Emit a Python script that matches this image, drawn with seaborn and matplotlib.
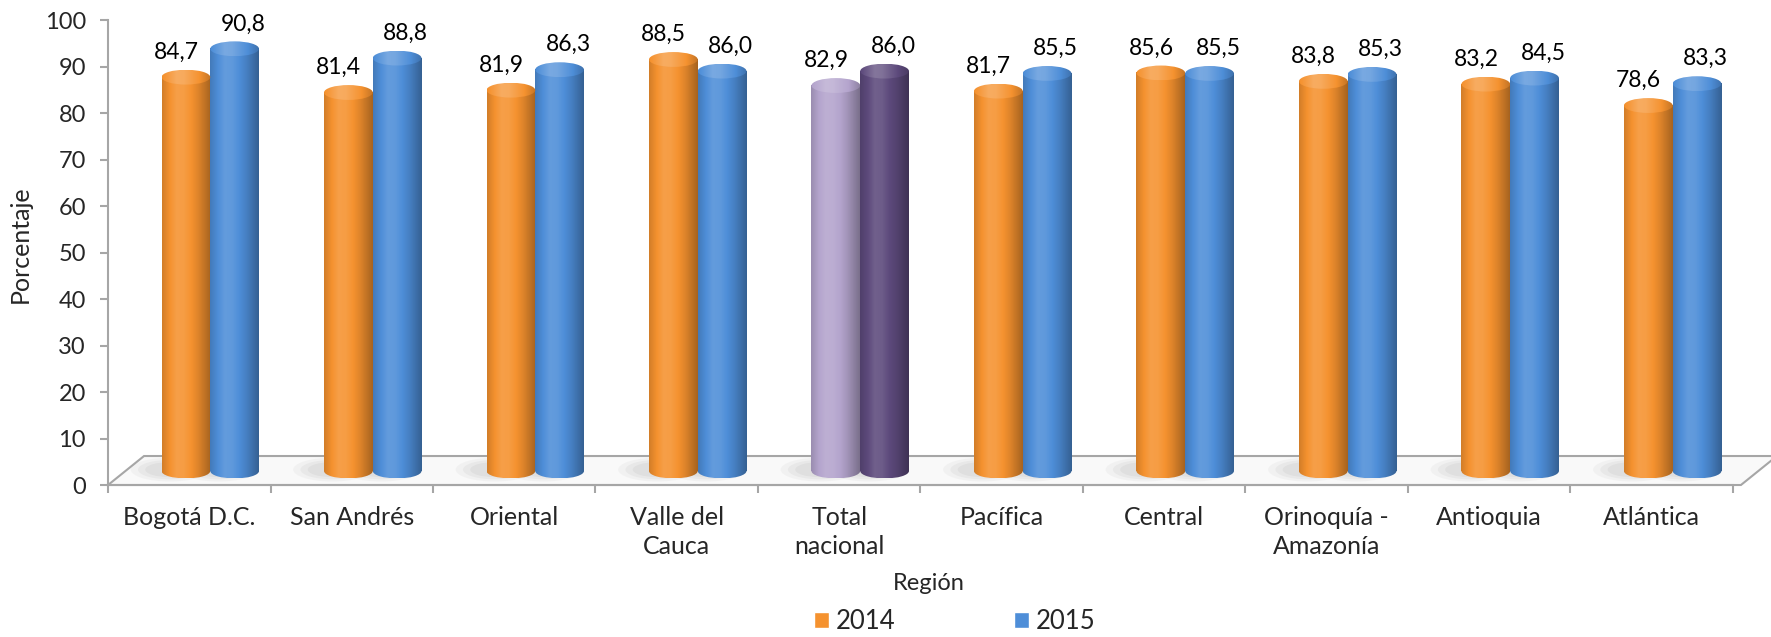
import numpy as np
import pandas as pd
import matplotlib
matplotlib.use('Agg')
import matplotlib.pyplot as plt
import matplotlib.colors as mcolors
from matplotlib.patches import Ellipse, Polygon
from matplotlib.transforms import ScaledTranslation, IdentityTransform
import seaborn as sns

# Datos (porcentaje por región)
categories = ['Bogotá D.C.', 'San Andrés', 'Oriental', 'Valle del\nCauca', 'Total\nnacional',
              'Pacífica', 'Central', 'Orinoquía -\nAmazonía', 'Antioquia', 'Atlántica']
years = ['2014', '2015']
v2014 = [84.7, 81.4, 81.9, 88.5, 82.9, 81.7, 85.6, 83.8, 83.2, 78.6]
v2015 = [90.8, 88.8, 86.3, 86.0, 86.0, 85.5, 85.5, 85.3, 84.5, 83.3]
yticks = list(range(0, 101, 10))

palette = {'2014': '#F5922F', '2015': '#4E8ED8'}
total_colors = {'2014': '#B4A4CD', '2015': '#5D4A7C'}
grey = '#A6A6A6'

df = pd.DataFrame({'region': categories * 2,
                   'year': ['2014'] * len(v2014) + ['2015'] * len(v2015),
                   'valor': v2014 + v2015})

sns.set_theme(style='ticks')
plt.rcParams['font.family'] = ['Lato', 'DejaVu Sans']

fig, ax = plt.subplots(figsize=(17.71, 6.37), dpi=100)
fig.subplots_adjust(left=0.061, right=0.9785, bottom=0.2386, top=0.9686)

sns.barplot(data=df, x='region', y='valor', hue='year', hue_order=years,
            palette=palette, width=0.6, saturation=1, ax=ax)
handles, labels = ax.get_legend_handles_labels()
ax.get_legend().remove()

# desplazamiento "3D" de los cilindros
off = ax.transData + ScaledTranslation(0.21, 0.14, fig.dpi_scale_trans)

prof_f = np.interp(np.linspace(0, 1, 80), [0, 0.3, 0.45, 0.75, 1], [0.86, 1.12, 1.1, 0.9, 0.68])


def shade(c, f):
    rgb = np.array(mcolors.to_rgb(c))
    if f >= 1:
        return np.clip(rgb + (1 - rgb) * (f - 1), 0, 1)
    return rgb * f


def gradient(c, lift=0.0):
    return np.array([shade(c, f + lift) for f in prof_f])[None, :, :]


eh = 3.2  # alto de la elipse en unidades de datos
for yr, cont in zip(years, ax.containers):
    for cat, bar in zip(categories, cont):
        color = total_colors[yr] if cat.startswith('Total') else palette[yr]
        x0, w, h = bar.get_x(), bar.get_width(), bar.get_height()
        bar.set_visible(False)
        ax.imshow(gradient(color), extent=[x0, x0 + w, 0, h], aspect='auto',
                  transform=off, zorder=3, interpolation='bilinear')
        e_b = Ellipse((x0 + w / 2, 0), w, eh, transform=off, facecolor='none', edgecolor='none')
        ax.add_patch(e_b)
        im_b = ax.imshow(gradient(color), extent=[x0, x0 + w, -eh / 2, 0], aspect='auto',
                         transform=off, zorder=3, interpolation='bilinear')
        im_b.set_clip_path(e_b)
        e_t = Ellipse((x0 + w / 2, h), w, eh, transform=off, facecolor='none', edgecolor='none')
        ax.add_patch(e_t)
        im_t = ax.imshow(gradient(color, 0.12), extent=[x0, x0 + w, h - eh / 2, h + eh / 2],
                         aspect='auto', transform=off, zorder=4, interpolation='bilinear')
        im_t.set_clip_path(e_t)
        # sombra suave sobre el piso
        for k, a in [(1.6, 0.08), (1.3, 0.1), (1.0, 0.12)]:
            ax.add_patch(Ellipse((x0 + w / 2 - 0.1, 0.3), w * k, eh * k, transform=off,
                                 facecolor='#9E9E9E', edgecolor='none', alpha=a, zorder=2))
        dx = -7 if yr == '2014' else 6
        ax.annotate(f'{h:.1f}'.replace('.', ','), (x0 + w / 2, h + eh / 2), xycoords=off,
                    xytext=(dx, 5), textcoords='offset points', ha='center', va='bottom',
                    fontsize=16.5, color='black', annotation_clip=False, zorder=5)

ax.set_xlim(-0.5, len(categories) - 0.5)
ax.set_ylim(0, 100)

# ejes
ax.set_yticks(yticks)
ax.tick_params(axis='y', labelsize=17, length=6, width=1.5, color=grey, pad=10)
ax.set_xticks(np.arange(-0.5, len(categories), 1))
ax.set_xticklabels([])
ax.set_xticks(np.arange(len(categories)), minor=True)
ax.set_xticklabels(categories, minor=True, fontsize=18, linespacing=1.3)
ax.tick_params(axis='x', which='major', length=6, width=1.5, color=grey)
ax.tick_params(axis='x', which='minor', length=0, pad=15)
for side in ['top', 'right']:
    ax.spines[side].set_visible(False)
for side in ['left', 'bottom']:
    ax.spines[side].set_color(grey)
    ax.spines[side].set_linewidth(1.5)

ax.set_ylabel('Porcentaje', fontsize=18)
ax.yaxis.set_label_coords(-0.047, 0.518)
ax.set_xlabel('Región', fontsize=17)
ax.xaxis.set_label_coords(0.505, -0.19)

# piso en perspectiva
fl = ax.transData.transform((-0.5, 0))
fr = ax.transData.transform((len(categories) - 0.5, 0)) + np.array([8, 0])
depth = np.array([36, 29])
floor = Polygon([fl, fr, fr + depth, fl + depth], closed=True, transform=IdentityTransform(),
                facecolor='#F9F9F9', edgecolor=grey, linewidth=1.5, zorder=1, clip_on=False)
ax.add_artist(floor)

fig.legend(handles, labels, loc='center', bbox_to_anchor=(0.539, 0.024), ncol=2,
           frameon=False, fontsize=18.5, handlelength=0.6, handleheight=0.6,
           handletextpad=0.25, columnspacing=4.6)

fig.savefig('out.png', dpi=100)
